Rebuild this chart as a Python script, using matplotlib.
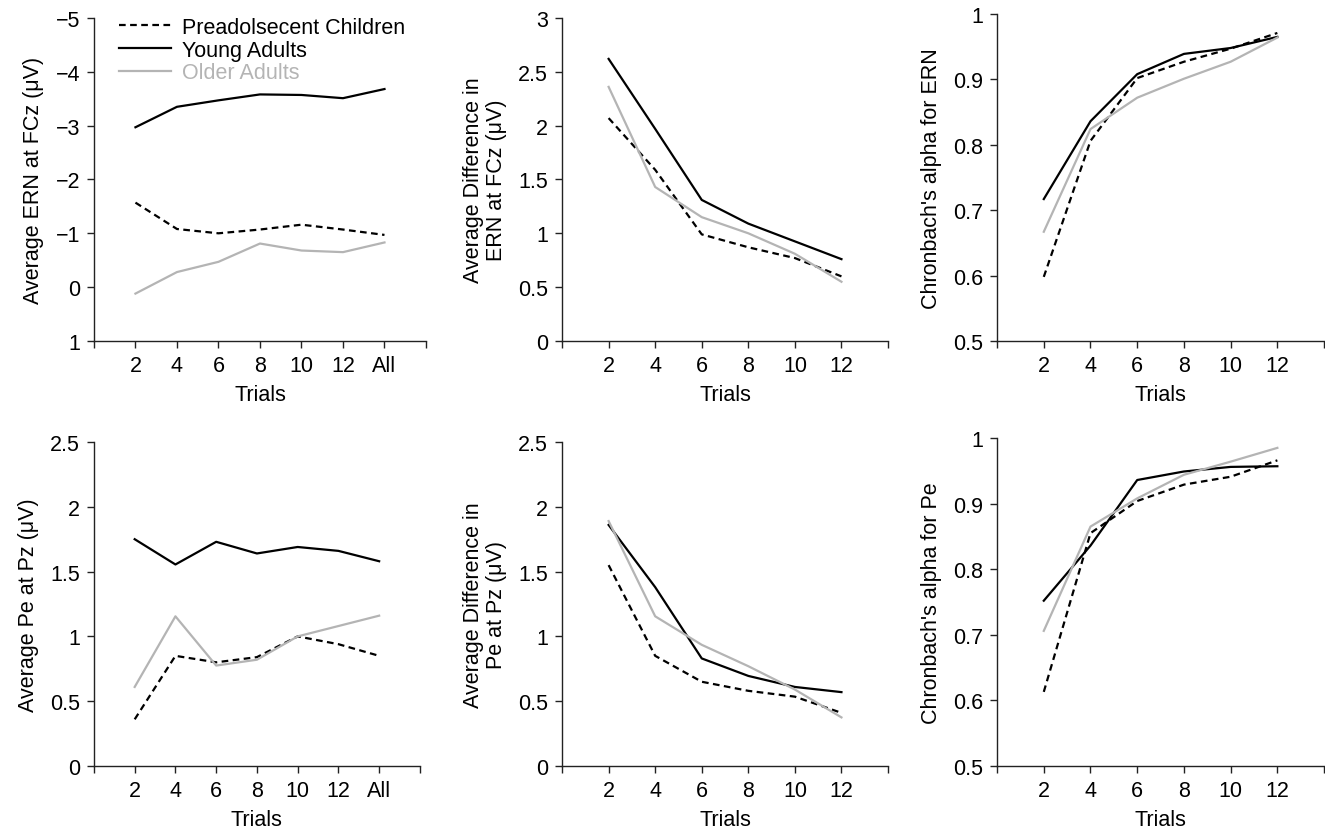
import matplotlib.pyplot as plt

plt.rcParams['font.family'] = ['Liberation Sans', 'DejaVu Sans']

# trial counts
trials_all = ['2', '4', '6', '8', '10', '12', 'All']
trials = ['2', '4', '6', '8', '10', '12']

groups = ['Preadolsecent Children', 'Young Adults', 'Older Adults']

# ERN amplitude at FCz
ern_child = [-1.57, -1.08, -1.00, -1.07, -1.16, -1.07, -0.97]
ern_young = [-2.97, -3.35, -3.47, -3.58, -3.57, -3.51, -3.68]
ern_older = [0.12, -0.28, -0.47, -0.81, -0.68, -0.65, -0.83]

# average difference in ERN at FCz
ern_diff_child = [2.07, 1.59, 0.99, 0.87, 0.77, 0.60]
ern_diff_young = [2.62, 1.97, 1.31, 1.09, 0.925, 0.76]
ern_diff_older = [2.36, 1.43, 1.15, 1.00, 0.81, 0.55]

# Chronbach's alpha for ERN
ern_alpha_child = [0.598, 0.806, 0.902, 0.927, 0.947, 0.971]
ern_alpha_young = [0.717, 0.836, 0.908, 0.939, 0.948, 0.965]
ern_alpha_older = [0.667, 0.824, 0.872, 0.901, 0.927, 0.964]

# Pe amplitude at Pz
pe_child = [0.36, 0.85, 0.80, 0.84, 1.00, 0.94, 0.85]
pe_young = [1.75, 1.555, 1.73, 1.64, 1.69, 1.66, 1.58]
pe_older = [0.61, 1.155, 0.775, 0.82, 1.00, 1.08, 1.16]

# average difference in Pe at Pz
pe_diff_child = [1.55, 0.85, 0.65, 0.58, 0.535, 0.41]
pe_diff_young = [1.86, 1.38, 0.83, 0.695, 0.61, 0.57]
pe_diff_older = [1.89, 1.155, 0.935, 0.77, 0.59, 0.375]

# Chronbach's alpha for Pe
pe_alpha_child = [0.613, 0.855, 0.904, 0.929, 0.941, 0.966]
pe_alpha_young = [0.752, 0.836, 0.936, 0.949, 0.956, 0.957]
pe_alpha_older = [0.706, 0.865, 0.908, 0.944, 0.964, 0.985]

GRAY = '#b4b4b4'
FS = 15.5
styles = [dict(color='black', linestyle=(0, (3, 2))),
          dict(color='black', linestyle='-'),
          dict(color=GRAY, linestyle='-')]

fig = plt.figure(figsize=(13.25, 8.29), dpi=100)

panels = [
    # left, bottom, width, height
    ([0.0709, 0.5875, 0.2506, 0.3896], trials_all, (ern_child, ern_young, ern_older),
     'Average ERN at FCz (\u03bcV)', (-5, 1), 1, True),
    ([0.4242, 0.5875, 0.2460, 0.3896], trials, (ern_diff_child, ern_diff_young, ern_diff_older),
     'Average Difference in\nERN at FCz (\u03bcV)', (0, 3), 0.5, False),
    ([0.7525, 0.5875, 0.2468, 0.3944], trials, (ern_alpha_child, ern_alpha_young, ern_alpha_older),
     "Chronbach's alpha for ERN", (0.5, 1), 0.1, False),
    ([0.0709, 0.0748, 0.2460, 0.3908], trials_all, (pe_child, pe_young, pe_older),
     'Average Pe at Pz (\u03bcV)', (0, 2.5), 0.5, False),
    ([0.4242, 0.0748, 0.2460, 0.3908], trials, (pe_diff_child, pe_diff_young, pe_diff_older),
     'Average Difference in\nPe at Pz (\u03bcV)', (0, 2.5), 0.5, False),
    ([0.7525, 0.0748, 0.2468, 0.3956], trials, (pe_alpha_child, pe_alpha_young, pe_alpha_older),
     "Chronbach's alpha for Pe", (0.5, 1), 0.1, False),
]

for rect, labels, series, ylabel, ylim, step, first in panels:
    ax = fig.add_axes(rect)
    x = list(range(1, len(labels) + 1))
    for vals, name, st in zip(series, groups, styles):
        ax.plot(x, vals, lw=1.6, label=name, **st)

    n = len(labels) + 1
    ax.set_xlim(0, n)
    ax.set_xticks(range(0, n + 1))
    ax.set_xticklabels([''] + labels + [''])

    lo, hi = ylim
    nt = int(round((hi - lo) / step))
    ticks = [lo + i * step for i in range(nt + 1)]
    ax.set_yticks(ticks)
    ax.set_yticklabels([('%g' % t).replace('-', '\u2212') for t in ticks])
    if first:
        ax.set_ylim(hi, lo)
    else:
        ax.set_ylim(lo, hi)

    for side in ('top', 'right'):
        ax.spines[side].set_visible(False)
    for side in ('left', 'bottom'):
        ax.spines[side].set_color('#222222')
        ax.spines[side].set_linewidth(1.0)
    ax.tick_params(direction='out', length=5, width=1.0, color='#222222',
                   labelsize=FS, pad=5)
    ax.set_xlabel('Trials', fontsize=FS, labelpad=6)
    ax.set_ylabel(ylabel, fontsize=FS, labelpad=8, linespacing=1.1)

    if first:
        leg = ax.legend(loc='upper left', bbox_to_anchor=(0.05, 1.03), frameon=False,
                        fontsize=FS, handlelength=2.4, handletextpad=0.5,
                        labelspacing=0.08, borderaxespad=0)
        for txt, st in zip(leg.get_texts(), styles):
            txt.set_color(st['color'])

fig.savefig('out.png', dpi=100)
